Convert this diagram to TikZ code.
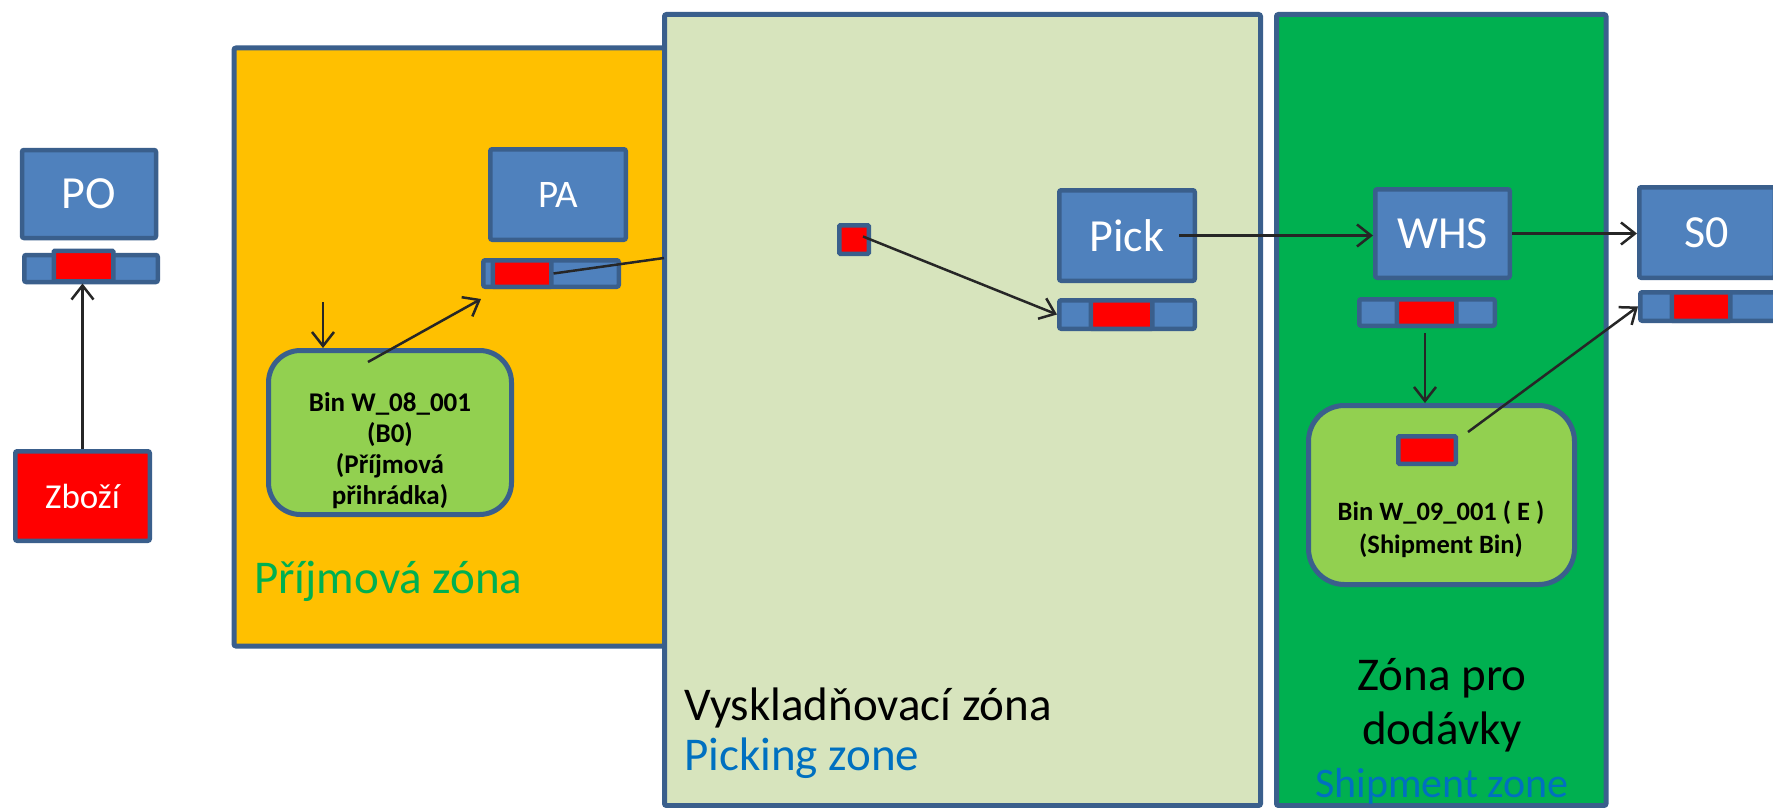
\documentclass[tikz,border=0pt]{standalone}
\usepackage{fontspec}
\setmainfont{Carlito}
\usetikzlibrary{arrows.meta,calc}
\definecolor{bord}{HTML}{3A5F8C}
\definecolor{boxfill}{HTML}{4F81BD}
\definecolor{orangez}{HTML}{FFC000}
\definecolor{lgreenz}{HTML}{D7E4BD}
\definecolor{dgreenz}{HTML}{00B050}
\definecolor{bingreen}{HTML}{92D050}
\definecolor{redc}{HTML}{FF0000}
\definecolor{txtgreen}{HTML}{00B050}
\definecolor{txtblue}{HTML}{0070C0}
\definecolor{arrowc}{HTML}{262626}
\begin{document}
\begin{tikzpicture}[x=1pt,y=-1pt,
  bx/.style={draw=bord,fill=boxfill,line width=4.5pt,inner sep=0pt,rounded corners=2pt,text=white},
  cell/.style={draw=bord,fill=redc,line width=4.5pt,inner sep=0pt,rounded corners=1pt},
  zonebox/.style={draw=bord,line width=5pt,rounded corners=2pt},
  binbox/.style={draw=bord,fill=bingreen,line width=5pt,inner sep=0pt},
  conn/.style={draw=arrowc,line width=2.5pt,-{Straight Barb[length=14pt,width=22pt]}},
  plain/.style={draw=arrowc,line width=2.5pt},
  big/.style={font=\fontsize{46}{55}\selectfont},
  zl/.style={font=\fontsize{47}{54}\selectfont,inner sep=0pt},
  bintxt/.style={font=\fontsize{27}{31}\selectfont\bfseries,align=center,inner sep=0pt}
]
\useasboundingbox (0,0) rectangle (1773,808);
\fill[white] (0,0) rectangle (1773,808);

% zones
\path[zonebox,fill=orangez] (234,48) rectangle (700,646);
\path[zonebox,fill=lgreenz] (664.5,14.5) rectangle (1260.5,805.5);
\path[zonebox,fill=dgreenz] (1276.5,14.5) rectangle (1606,805.5);

% PO and goods
\node[bx,big,minimum width=134pt,minimum height=88pt] (PO) at (89,194) {PO};
\node[bx,minimum width=133.5pt,minimum height=27pt] (POs) at (91,268.5) {};
\node[cell,minimum width=59.5pt,minimum height=30.5pt] (POr) at (83.5,266) {};
\node[bx,fill=redc,font=\fontsize{35}{42}\selectfont,minimum width=134.5pt,minimum height=89.5pt] (Zbozi) at (82.5,496) {Zboží};

% PA
\node[bx,font=\fontsize{39}{46}\selectfont,minimum width=135.5pt,minimum height=90.5pt] (PA) at (558,194.5) {PA};
\node[bx,minimum width=135.5pt,minimum height=26.5pt] (PAs) at (551,273.5) {};
\node[cell,minimum width=58.5pt,minimum height=26.5pt] (PAr) at (522,273.5) {};

% receiving bin
\node[binbox,rounded corners=32pt,minimum width=243pt,minimum height=164pt] (bin1) at (390,432.5) {};
\node[bintxt] (b1t) at (390,450.5) {Bin W\_08\_001\\(B0)\\(Příjmová\\přihrádka)};

% picking
\node[cell,minimum width=29.5pt,minimum height=28.5pt] (sq) at (854,239.5) {};
\node[bx,big,minimum width=135.5pt,minimum height=90.5pt] (Pick) at (1127,235.5) {Pick};
\node[bx,minimum width=135.5pt,minimum height=28.5pt] (Picks) at (1127,314.5) {};
\node[cell,minimum width=61.5pt,minimum height=28.5pt] (Pickr) at (1121.5,314.5) {};

% WHS
\node[bx,big,minimum width=134.5pt,minimum height=88.5pt] (WHS) at (1442.5,233.5) {WHS};
\node[bx,minimum width=135.5pt,minimum height=26.5pt] (WHSs) at (1427,312.5) {};
\node[cell,minimum width=59.5pt,minimum height=26.5pt] (WHSr) at (1426.5,312.5) {};

% shipment bin
\node[binbox,rounded corners=36pt,minimum width=266pt,minimum height=179pt] (bin2) at (1441.5,495) {};
\node[cell,minimum width=57.5pt,minimum height=27.5pt] (B2r) at (1427,450) {};
\node[bintxt,font=\fontsize{26.5}{33}\selectfont\bfseries] (b2t) at (1441,529) {Bin W\_09\_001 ( E )\\(Shipment Bin)};

% S0
\node[bx,big,minimum width=135.5pt,minimum height=90.5pt] (S0) at (1707,232.5) {S0};
\node[bx,minimum width=135.5pt,minimum height=28.5pt] (S0s) at (1708,306.5) {};
\node[cell,minimum width=58.5pt,minimum height=28.5pt] (S0r) at (1701,306.5) {};

% zone labels
\node[zl,anchor=base west,text=txtgreen] (zl1) at (254,593) {Příjmová zóna};
\node[zl,anchor=base west] (zl2) at (684,720) {Vyskladňovací zóna};
\node[zl,anchor=base west,text=txtblue] (zl3) at (684,770) {Picking zone};
\node[zl,align=center] (zl4) at (1442,705.5) {Zóna pro\\dodávky};
\node[zl,font=\fontsize{42}{50}\selectfont,anchor=base,text=txtblue] (zl5) at (1442,797) {Shipment zone};

% connectors
\draw[conn] (Zbozi.north) -- (Zbozi.north |- POr.south);
\coordinate (d1) at (323,302);
\draw[conn] (d1) -- (d1 |- bin1.north);
\coordinate (b1o) at (368,362);
\draw[conn] (b1o) -- ($(PAs.south west)+(0,10)$);
\coordinate (edgeP) at (664,258);
\draw[plain] (PAr.east) -- (edgeP);
\draw[conn] ($(sq.center)+(9,-3)$) -- (Picks.west);
\coordinate (p1) at ($(Pick.east)+(-18,0)$);
\draw[conn] (p1) -- (p1 -| WHS.west);
\draw[conn] (WHS.east) -- (WHS.east -| S0.west);
\coordinate (w1) at ($(WHSs.south)+(-2,5)$);
\draw[conn] (w1) -- (w1 |- bin2.north);
\coordinate (b2o) at ($(B2r.north east)+(10,-2)$);
\draw[conn] (b2o) -- (S0s.west);
\end{tikzpicture}
\end{document}
